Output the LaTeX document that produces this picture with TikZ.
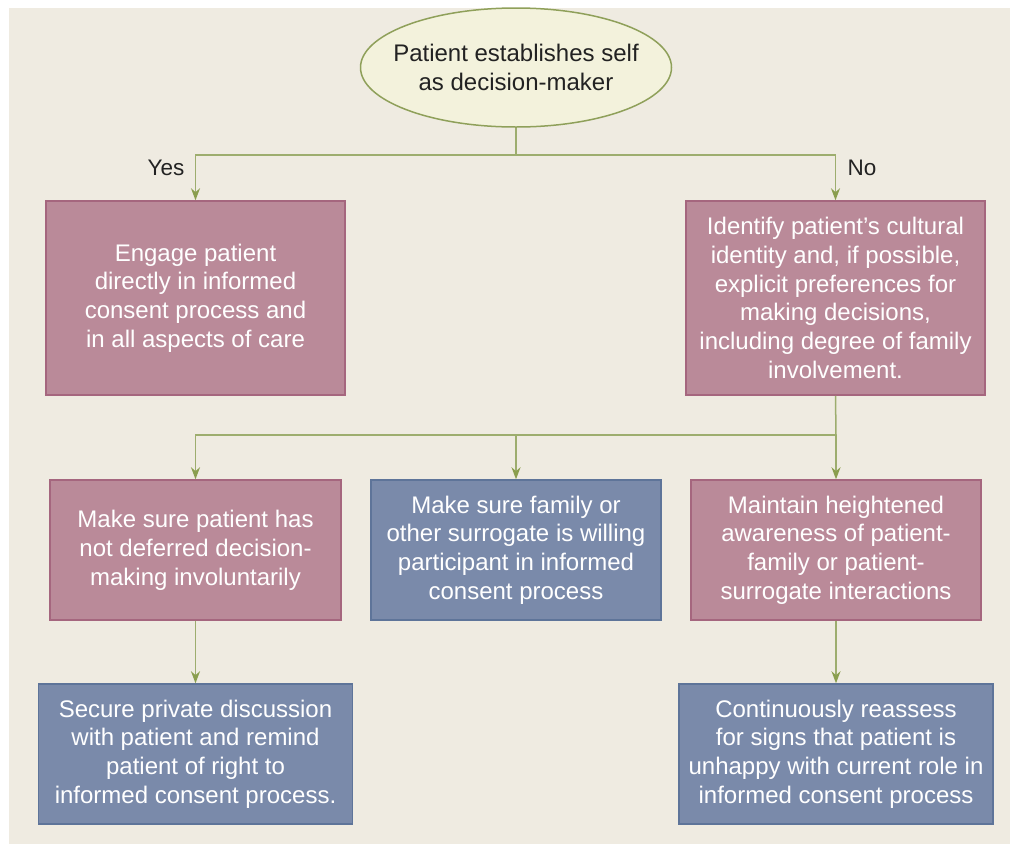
\documentclass[tikz,border=0pt]{standalone}
\usepackage{fontspec}
\setmainfont{Liberation Sans}
\usetikzlibrary{shapes.geometric,arrows.meta}
\definecolor{bgbeige}{HTML}{EFEBE1}
\definecolor{pinkfill}{HTML}{BA8A99}
\definecolor{pinkline}{HTML}{A5667E}
\definecolor{bluefill}{HTML}{7A8AAA}
\definecolor{blueline}{HTML}{5E7499}
\definecolor{olive}{HTML}{9DAD6E}
\definecolor{olivetip}{HTML}{8A9E4E}
\definecolor{ellfill}{HTML}{F3F2DC}
\definecolor{ellline}{HTML}{8FA05A}
\definecolor{darktext}{HTML}{222222}
\tikzset{
  base/.style={inner sep=0pt, align=center, font=\fontsize{24}{28.8}\selectfont, line width=1.5pt},
  pinkbox/.style={base, rectangle, fill=pinkfill, draw=pinkline, text=white},
  bluebox/.style={base, rectangle, fill=bluefill, draw=blueline, text=white},
  startell/.style={base, ellipse, fill=ellfill, draw=ellline, text=darktext, inner xsep=-20pt, minimum width=311pt, minimum height=119pt},
  conn/.style={draw=olive, line width=1.5pt},
  arr/.style={conn, -{Stealth[length=12pt,width=9pt,color=olivetip]}},
  lbl/.style={font=\fontsize{22.5}{26}\selectfont, text=darktext, inner sep=0pt}
}
\begin{document}
\begin{tikzpicture}[x=1pt,y=-1pt]
\useasboundingbox (0,0) rectangle (1010,844);
\fill[white] (0,0) rectangle (1010,844);
\fill[bgbeige] (9,8) rectangle (1010,844);

\node[startell] (top) at (516,67.5) {Patient establishes self\\as decision-maker};

\node[pinkbox, minimum width=299pt, minimum height=194pt] (yes) at (195.5,298) {Engage patient\\directly in informed\\consent process and\\in all aspects of care};
\node[pinkbox, minimum width=299pt, minimum height=194pt] (no) at (835.5,298) {Identify patient’s cultural\\identity and, if possible,\\explicit preferences for\\making decisions,\\including degree of family\\involvement.};

\node[pinkbox, minimum width=291pt, minimum height=140pt] (m1) at (195.5,550) {Make sure patient has\\not deferred decision-\\making involuntarily};
\node[bluebox, minimum width=290pt, minimum height=140pt] (m2) at (516,550) {Make sure family or\\other surrogate is willing\\participant in informed\\consent process};
\node[pinkbox, minimum width=290pt, minimum height=140pt] (m3) at (836,550) {Maintain heightened\\awareness of patient-\\family or patient-\\surrogate interactions};

\node[bluebox, minimum width=314pt, minimum height=140pt] (b1) at (195.5,754) {Secure private discussion\\with patient and remind\\patient of right to\\informed consent process.};
\node[bluebox, minimum width=314pt, minimum height=140pt] (b2) at (836,754) {Continuously reassess\\for signs that patient is\\unhappy with current role in\\informed consent process};

\coordinate (j1) at (516,155);
\coordinate (j2) at (836,435);

\draw[conn] (top.south) -- (j1);
\draw[arr] (j1) -| (yes.north);
\draw[arr] (j1) -| (no.north);

\draw[conn] (no.south) -- (j2);
\draw[arr] (j2) -| (m1.north);
\draw[arr] (j2) -| (m2.north);
\draw[arr] (j2) -- (m3.north);

\draw[arr] (m1.south) -- (b1.north);
\draw[arr] (m3.south) -- (b2.north);

\node[lbl] (yeslbl) at (166,168) {Yes};
\node[lbl] (nolbl) at (862,168) {No};
\end{tikzpicture}
\end{document}
